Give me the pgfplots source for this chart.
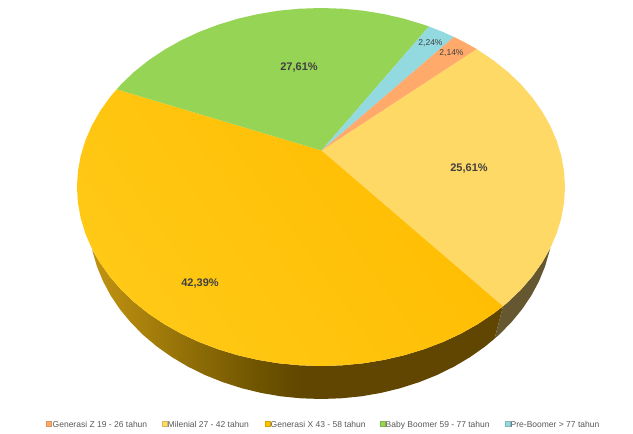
\documentclass[border=0pt]{standalone}
\usepackage{fontspec}
\setmainfont{Liberation Sans}
\usepackage{pgfplots}
\pgfplotsset{compat=1.18}
\definecolor{cOrange}{HTML}{FFC000}
\definecolor{cOrangeL}{HTML}{FFC916}
\definecolor{cOrangeR}{HTML}{FFBC00}
\definecolor{cYellow}{HTML}{FFD966}
\definecolor{cGreen}{HTML}{96D455}
\definecolor{cCyan}{HTML}{92D9E0}
\definecolor{cSalmon}{HTML}{FFA96B}
\definecolor{cSide}{HTML}{655830}
\definecolor{cText}{HTML}{404040}
\definecolor{cLegend}{HTML}{595959}
\pgfdeclarehorizontalshading{sideorange}{100bp}{%
 rgb(0bp)=(0.753,0.576,0.063);
 rgb(25bp)=(0.753,0.576,0.063);
 rgb(27.5bp)=(0.722,0.549,0.059);
 rgb(38bp)=(0.549,0.42,0.027);
 rgb(45bp)=(0.439,0.333,0);
 rgb(50.5bp)=(0.376,0.275,0);
 rgb(100bp)=(0.376,0.275,0)}
\tikzset{biglabel/.style={text=cText,font=\fontsize{11pt}{13pt}\selectfont\bfseries},
 smalllabel/.style={text=cText,font=\fontsize{8.5pt}{10pt}\selectfont},
 legtext/.style={anchor=base west,inner xsep=0pt,text=cLegend,font=\fontsize{8.5pt}{10pt}\selectfont}}
\begin{document}
\begin{tikzpicture}
\begin{axis}[
  width=633pt,height=434pt,scale only axis,
  xmin=0,xmax=633,ymin=0,ymax=434,y dir=reverse,
  hide axis,clip=true,
  every axis plot/.append style={draw=none,line width=0pt},
]
% page
\addplot[fill=white] coordinates {(0,0)(633,0)(633,434)(0,434)} -- cycle;
% side, orange slice
\addplot[shading=sideorange] coordinates {
(92,249.5)(96.9,266.3)(103,281.2)(110.7,295.6)(120.1,309.5)(131,322.7)(143.3,335.1)(157,346.6)(171.9,357.1)(187.9,366.6)(205,375)(223,382.2)(241.7,388.2)(261,392.9)(280.7,396.3)(300.8,398.3)(321,399)(341.2,398.3)(361.3,396.3)(381,392.9)(400.3,388.2)(419,382.2)(437,375)(454.1,366.6)(470.1,357.1)(485,346.6)(494.6,338.6)
(503,306.3)(493.5,313.6)(477.8,324.1)(461,333.6)(443,342)(424.1,349.2)(404.4,355.2)(384.1,359.9)(363.4,363.3)(342.3,365.3)(321,366)(299.7,365.3)(278.6,363.3)(257.9,359.9)(237.6,355.2)(217.9,349.2)(199,342)(181,333.6)(164.2,324.1)(148.5,313.6)(134.1,302.1)(121.1,289.7)(109.7,276.5)(99.9,262.6)
} -- cycle;
% side, yellow slice
\addplot[fill=cSide] coordinates {
(494.6,338.6)(498.7,335.1)(511,322.7)(521.9,309.5)(531.3,295.6)(539,281.2)(545.1,266.3)(549.8,250)(550.3,248.2)(542.1,262.6)(532.3,276.5)(520.9,289.7)(507.9,302.1)(503,306.3)
} -- cycle;
% top: Milenial
\addplot[fill=cYellow] coordinates {
(321.5,150.5)(476.7,49)(477.8,49.9)(493.5,60.4)(507.9,71.9)(520.9,84.3)(532.3,97.5)(542.1,111.4)(550.3,125.8)(556.7,140.7)(561.3,155.9)(564.1,171.4)(565,187)(564.1,202.6)(561.3,218.1)(556.7,233.3)(550.3,248.2)(542.1,262.6)(532.3,276.5)(520.9,289.7)(507.9,302.1)(503,306.3)
} -- cycle;
% top: Generasi X
\addplot[bottom color=cOrangeL,top color=cOrangeR,shading angle=-55] coordinates {
(321.5,150.5)(503,306.3)(493.5,313.6)(477.8,324.1)(461,333.6)(443,342)(424.1,349.2)(404.4,355.2)(384.1,359.9)(363.4,363.3)(342.3,365.3)(321,366)(299.7,365.3)(278.6,363.3)(257.9,359.9)(237.6,355.2)(217.9,349.2)(199,342)(181,333.6)(164.2,324.1)(148.5,313.6)(134.1,302.1)(121.1,289.7)(109.7,276.5)(99.9,262.6)(91.7,248.2)(85.3,233.3)(80.7,218.1)(77.9,202.6)(77,187)(77.9,171.4)(80.7,155.9)(85.3,140.7)(91.7,125.8)(99.9,111.4)(109.7,97.5)(116.7,89.3)
} -- cycle;
% top: Baby Boomer
\addplot[fill=cGreen] coordinates {
(321.5,150.5)(116.7,89.3)(121.1,84.3)(134.1,71.9)(148.5,60.4)(164.2,49.9)(181,40.4)(199,32)(217.9,24.8)(237.6,18.8)(257.9,14.1)(278.6,10.7)(299.7,8.7)(321,8)(342.3,8.7)(363.4,10.7)(384.1,14.1)(404.4,18.8)(424.1,24.8)(429,26.5)
} -- cycle;
% top: Pre-Boomer
\addplot[fill=cCyan] coordinates {(321.5,150.5)(429,26.5)(443,32)(454,37)} -- cycle;
% top: Generasi Z
\addplot[fill=cSalmon] coordinates {(321.5,150.5)(454,37)(461,40.4)(476.7,49)} -- cycle;
% legend keys
\addplot[fill=cSalmon,draw=cSalmon!85!black,line width=0.3pt] coordinates {(46.5,421.5)(51,421.5)(51,426)(46.5,426)} -- cycle;
\addplot[fill=cYellow,draw=cYellow!85!black,line width=0.3pt] coordinates {(162.5,421.5)(167,421.5)(167,426)(162.5,426)} -- cycle;
\addplot[fill=cOrange,draw=cOrange!85!black,line width=0.3pt] coordinates {(265.5,421.5)(270,421.5)(270,426)(265.5,426)} -- cycle;
\addplot[fill=cGreen,draw=cGreen!85!black,line width=0.3pt] coordinates {(380.5,421.5)(385,421.5)(385,426)(380.5,426)} -- cycle;
\addplot[fill=cCyan,draw=cCyan!85!black,line width=0.3pt] coordinates {(505.5,421.5)(510,421.5)(510,426)(505.5,426)} -- cycle;
% labels
\node[biglabel] at (axis cs:200,283.8) {42,39\%};
\node[biglabel] at (axis cs:299,67.2) {27,61\%};
\node[biglabel] at (axis cs:469,168.8) {25,61\%};
\node[smalllabel] at (axis cs:430.5,43.3) {2,24\%};
\node[smalllabel] at (axis cs:451.5,53.3) {2,14\%};
\node[legtext] at (axis cs:52.5,427) {Generasi Z 19 - 26 tahun};
\node[legtext] at (axis cs:167.5,427) {Milenial 27 - 42 tahun};
\node[legtext] at (axis cs:270.5,427) {Generasi X 43 - 58 tahun};
\node[legtext] at (axis cs:385.5,427) {Baby Boomer 59 - 77 tahun};
\node[legtext] at (axis cs:510.5,427) {Pre-Boomer > 77 tahun};
\end{axis}
\end{tikzpicture}
\end{document}
